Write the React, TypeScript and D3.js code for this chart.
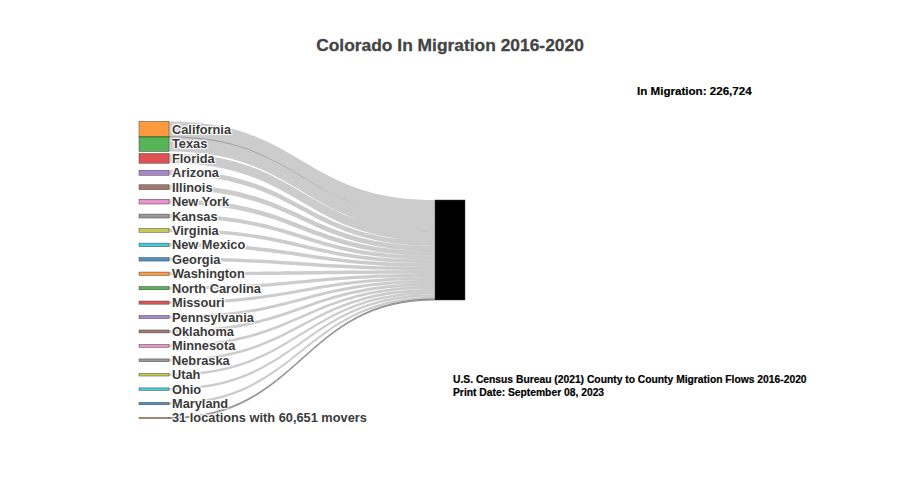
import React from "react";
import * as d3 from "d3";

const title = "Colorado In Migration 2016-2020";
const states = [
  "California", "Texas", "Florida", "Arizona", "Illinois", "New York", "Kansas",
  "Virginia", "New Mexico", "Georgia", "Washington", "North Carolina", "Missouri",
  "Pennsylvania", "Oklahoma", "Minnesota", "Nebraska", "Utah", "Ohio", "Maryland",
];
const movers = [
  26600, 24800, 16000, 8200, 8000, 7800, 6400, 6000, 5850, 5700, 5500, 5300,
  5150, 4950, 4800, 4600, 4450, 4250, 4100, 4000,
];
const otherCount = 31;
const otherMovers = 60651;
const totalIn = 226724;
const sourceNote = "U.S. Census Bureau (2021) County to County Migration Flows 2016-2020";
const printNote = "Print Date: September 08, 2023";

const W = 900;
const H = 480;
const font = "'Liberation Sans', Arial, sans-serif";

export default function App() {
  const nodeW = 30;
  const leftX = 139;
  const rightX = 435;
  const labels = [...states, `${otherCount} locations with ${d3.format(",")(otherMovers)} movers`];
  const n = labels.length;
  const centerY = d3.scaleLinear().domain([0, n - 1]).range([129.5, 418]);
  const sum = d3.sum(movers);
  const hScale = d3.scaleLinear().domain([0, sum]).range([0, 99]);
  const otherPx = 1;
  const colors = d3.schemeCategory10;
  const rightTop = 200;
  const rightH = hScale(sum) + otherPx;

  const heights = [...movers.map((v) => hScale(v)), otherPx];
  const x0 = leftX + nodeW;
  const x1 = rightX;
  const xi = d3.interpolateNumber(x0, x1);
  const c0 = xi(0.5);
  const c1 = xi(0.5);

  let acc = rightTop;
  const links = heights.map((h, i) => {
    const y0t = centerY(i) - h / 2;
    const y0b = centerY(i) + h / 2;
    const y1t = acc;
    const y1b = acc + h;
    acc += h;
    const p = d3.path();
    p.moveTo(x0, y0t);
    p.bezierCurveTo(c0, y0t, c1, y1t, x1, y1t);
    p.lineTo(x1, y1b);
    p.bezierCurveTo(c1, y1b, c0, y0b, x0, y0b);
    p.closePath();
    return p.toString();
  });

  const shadow = "1px 1px 1px #fff, 1px -1px 1px #fff, -1px 1px 1px #fff, -1px -1px 1px #fff";

  return (
    <svg width={W} height={H} style={{ position: "absolute", left: 0, top: 0, background: "#fff" }}>
      <text x={450} y={51} textAnchor="middle" fontFamily={font} fontWeight="bold" fontSize={17.4} fill="#444" stroke="#444" strokeWidth={0.3}>
        {title}
      </text>
      <g>
        {links.map((d, i) => (
          <path
            key={i}
            d={d}
            fill={i === n - 1 ? "none" : "rgba(0,0,0,0.2)"}
            stroke={i === n - 1 ? "rgba(0,0,0,0.55)" : "none"}
            strokeWidth={i === n - 1 ? 0.8 : 0}
          />
        ))}
      </g>
      <g>
        {heights.map((h, i) => (
          <rect
            key={i}
            x={leftX}
            y={centerY(i) - h / 2}
            width={nodeW}
            height={h}
            fill={colors[(i + 1) % 10]}
            fillOpacity={0.8}
            stroke="#444"
            strokeWidth={0.5}
          />
        ))}
        <rect x={rightX} y={rightTop} width={nodeW} height={rightH} fill="#000" stroke="#444" strokeWidth={0.5} />
      </g>
      <g>
        {labels.map((l, i) => (
          <text
            key={i}
            x={leftX + nodeW + 3}
            y={centerY(i)}
            dy="0.35em"
            fontFamily={font}
            fontWeight="bold"
            fontSize={12.8}
            fill="#3a3a3a"
            style={{ textShadow: shadow }}
          >
            {l}
          </text>
        ))}
      </g>
      <text x={637} y={95} fontFamily={font} fontWeight="bold" fontSize={11.6} fill="#000" stroke="#000" strokeWidth={0.2}>
        {`In Migration: ${d3.format(",")(totalIn)}`}
      </text>
      <text x={453} y={383} fontFamily={font} fontWeight="bold" fontSize={10.3} fill="#000" stroke="#000" strokeWidth={0.2}>
        {sourceNote}
      </text>
      <text x={453} y={396} fontFamily={font} fontWeight="bold" fontSize={10.3} fill="#000" stroke="#000" strokeWidth={0.2}>
        {printNote}
      </text>
    </svg>
  );
}
